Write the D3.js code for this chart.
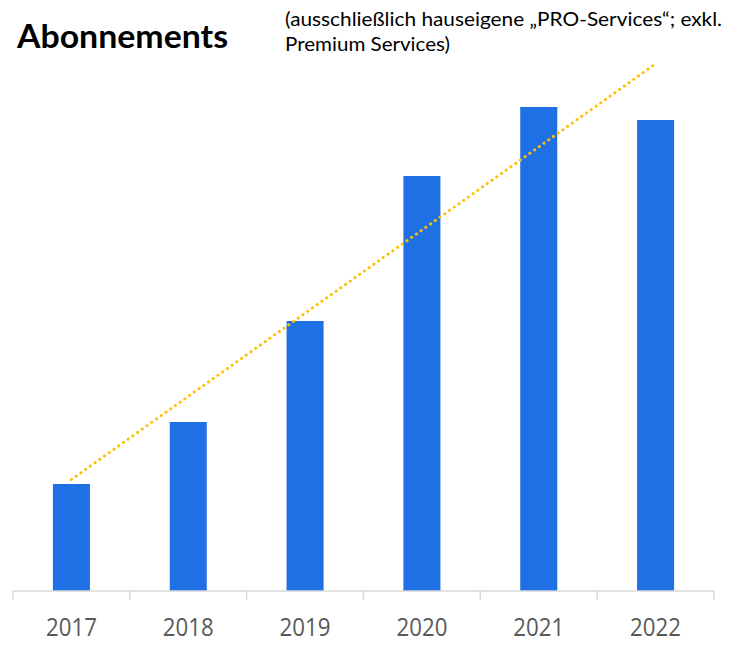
<!DOCTYPE html>
<html>
<head>
<meta charset="utf-8">
<script src="https://cdn.jsdelivr.net/npm/d3@7"></script>
<style>
  body { margin: 0; background: #fff; }
</style>
</head>
<body>
<div id="chart"></div>
<script>
// chart data
var years = ["2017", "2018", "2019", "2020", "2021", "2022"];
var subscriptions = [107, 169, 270, 415, 484, 471];
var titleText = "Abonnements";
var noteLines = ["(ausschließlich hauseigene \u201ePRO-Services\u201c; exkl.", "Premium Services)"];

var width = 731, height = 645;
var margin = {top: 71, right: 17, bottom: 54, left: 13};
var baseY = height - margin.bottom;

var svg = d3.select("#chart").append("svg")
  .attr("width", width)
  .attr("height", height);

// set the ranges
var x = d3.scaleBand().domain(years).range([margin.left, width - margin.right]).padding(0);
var y = d3.scaleLinear().domain([0, 520]).range([baseY, margin.top]);
var barW = x.bandwidth() * 0.317;

// bars
svg.selectAll("rect.bar")
  .data(years)
  .enter().append("rect")
  .attr("class", "bar")
  .attr("x", function(d) { return x(d) + (x.bandwidth() - barW) / 2; })
  .attr("y", function(d, i) { return y(subscriptions[i]); })
  .attr("width", barW)
  .attr("height", function(d, i) { return baseY - y(subscriptions[i]); })
  .attr("fill", "#1f6fe5");

// linear trendline (least squares over the series)
var n = subscriptions.length;
var mx = d3.mean(d3.range(n)), my = d3.mean(subscriptions);
var sxy = d3.sum(d3.range(n), function(i) { return (i - mx) * (subscriptions[i] - my); });
var sxx = d3.sum(d3.range(n), function(i) { return (i - mx) * (i - mx); });
var slope = sxy / sxx, icpt = my - slope * mx;
var cx = function(i) { return x(years[i]) + x.bandwidth() / 2; };

svg.append("line")
  .attr("x1", cx(0)).attr("y1", y(icpt))
  .attr("x2", cx(n - 1)).attr("y2", y(icpt + slope * (n - 1)))
  .attr("stroke", "#ffc000")
  .attr("stroke-width", 3)
  .attr("stroke-linecap", "round")
  .attr("stroke-dasharray", "0.1 5.7");

// axis line and ticks at band edges
var axisG = svg.append("g").attr("transform", "translate(0," + baseY + ")");
axisG.append("line")
  .attr("x1", margin.left).attr("x2", width - margin.right)
  .attr("stroke", "#d9d9d9").attr("stroke-width", 1.5);
var edges = years.map(function(d) { return x(d); }).concat([x.range()[1]]);
axisG.selectAll("line.tick")
  .data(edges)
  .enter().append("line")
  .attr("class", "tick")
  .attr("x1", function(d) { return d; }).attr("x2", function(d) { return d; })
  .attr("y1", 0).attr("y2", 9)
  .attr("stroke", "#d9d9d9").attr("stroke-width", 1.5);

// labels
var labels = svg.append("g")
  .attr("transform", "translate(0," + baseY + ")")
  .call(d3.axisBottom(x).tickSize(0).tickPadding(27));
labels.select(".domain").remove();
labels.selectAll("text")
  .attr("font-family", "'Open Sans', sans-serif")
  .attr("font-size", 25)
  .attr("fill", "#595959")
  .attr("textLength", 51)
  .attr("lengthAdjust", "spacingAndGlyphs");

// title and note
svg.append("text")
  .attr("x", 17).attr("y", 48)
  .attr("font-family", "Lato, sans-serif")
  .attr("font-weight", "bold")
  .attr("font-size", 33)
  .attr("fill", "#000")
  .attr("textLength", 211)
  .attr("lengthAdjust", "spacingAndGlyphs")
  .text(titleText);

svg.selectAll("text.note")
  .data(noteLines)
  .enter().append("text")
  .attr("class", "note")
  .attr("x", 285)
  .attr("y", function(d, i) { return 26 + i * 25; })
  .attr("font-family", "Lato, sans-serif")
  .attr("font-size", 20)
  .attr("fill", "#000")
  .attr("textLength", function(d, i) { return i == 0 ? 437 : 165; })
  .attr("lengthAdjust", "spacingAndGlyphs")
  .text(function(d) { return d; });
</script>
</body>
</html>
